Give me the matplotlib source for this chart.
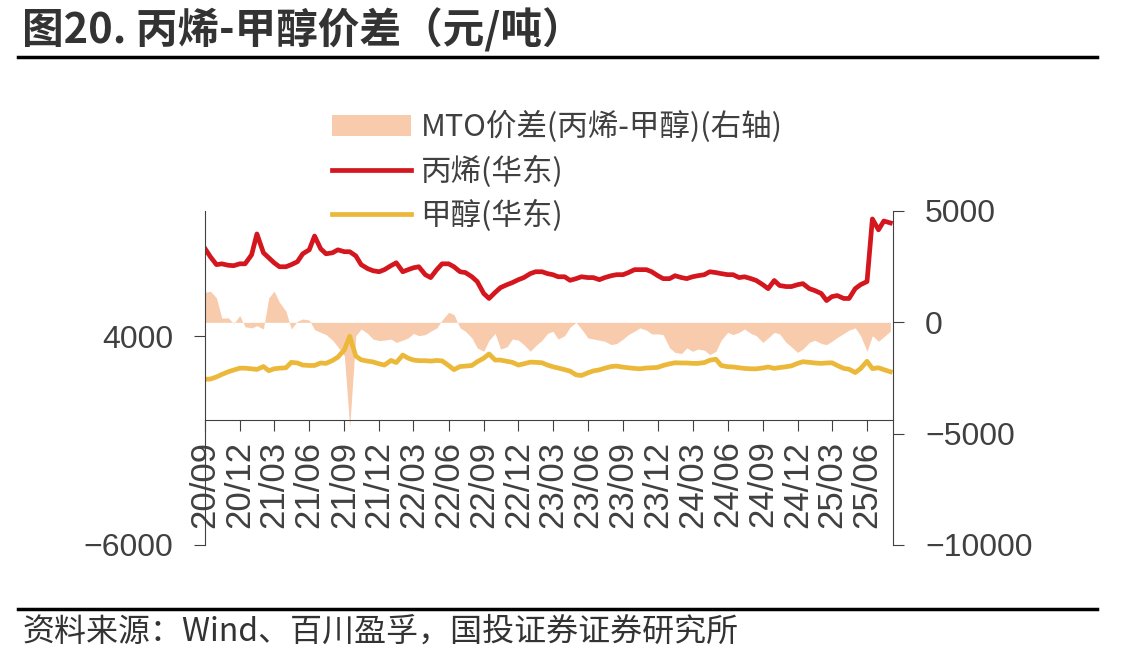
import matplotlib
matplotlib.use("Agg")
from matplotlib import pyplot as plt
from matplotlib.lines import Line2D
import pandas as pd

plt.rcParams['font.family'] = ['Noto Sans CJK SC', 'DejaVu Sans']

# semi-monthly sampling
dates = pd.date_range("2020-09-01", "2025-08-01", freq="SMS")

propylene = [
    8200, 7810, 7430, 7470, 7400, 7380, 7470, 7470,
    7900, 8900, 8000, 7760, 7520, 7330, 7330, 7430, 7570, 7950, 8140, 8800,
    8190, 7950, 8000, 8140, 8050, 8050, 7850, 7430, 7240, 7140, 7090, 7190,
    7380, 7520, 7090, 7190, 7280, 7330, 6950, 6810, 7190, 7470, 7470, 7330,
    7090, 7050, 6850, 6620, 6050, 5810, 6100, 6330, 6470, 6570, 6710, 6810,
    7000, 7090, 7090, 7000, 6950, 6850, 6850, 6680, 6760, 6850, 6810, 6810,
    6710, 6810, 6900, 6950, 6950, 7050, 7190, 7190, 7190, 7090, 6900, 6760,
    6760, 6900, 6810, 6760, 6850, 6900, 6950, 7090, 7050, 7000, 6950, 6950,
    6810, 6850, 6760, 6670, 6470, 6280, 6670, 6430, 6380, 6380, 6470, 6520,
    6280, 6190, 6050, 5710, 5900, 5950, 5810, 5810, 6280, 6470, 6620, 9620,
    9100, 9520, 9430,
]

methanol = [
    1940, 1950, 2050, 2170, 2300, 2380, 2470, 2470,
    2440, 2410, 2550, 2350, 2440, 2470, 2490, 2750, 2720, 2620, 2600, 2600,
    2720, 2700, 2840, 3000, 3350, 4000, 3050, 2870, 2810, 2770, 2680, 2620,
    2840, 2740, 3100, 2950, 2860, 2830, 2830, 2810, 2840, 2820, 2600, 2400,
    2550, 2570, 2600, 2780, 2950, 3150, 2860, 2860, 2800, 2750, 2620, 2680,
    2760, 2750, 2730, 2620, 2540, 2480, 2400, 2330, 2150, 2120, 2250, 2340,
    2390, 2470, 2550, 2570, 2520, 2490, 2460, 2440, 2480, 2490, 2510, 2600,
    2680, 2730, 2720, 2720, 2700, 2700, 2740, 2850, 2900, 2600, 2540, 2530,
    2490, 2460, 2440, 2440, 2480, 2530, 2460, 2500, 2540, 2580, 2700, 2780,
    2750, 2720, 2700, 2720, 2730, 2600, 2460, 2420, 2260, 2450, 2800, 2450,
    2490, 2400, 2300,
]

spread = [
    1350, 1400, 1100, 190, 200, -50, 300, -200,
    -250, -150, -300, 1100, 1400, 900, 500, -300, 50, 150, 100, -330,
    -450, -550, -800, -1100, -1500, -4700, -600, -300, -500, -750, -820, -800,
    -750, -900, -800, -700, -500, -600, -550, -400, -250, 100, 450, 350,
    -250, -400, -700, -1150, -1300, -800, -500, -1200, -1100, -750, -800, -1000,
    -1300, -1050, -800, -500, -400, -750, -600, -220, 0, -300, -700, -750,
    -800, -850, -1000, -950, -750, -550, -400, -250, -350, -520, -520, -550,
    -1150, -1350, -1400, -1150, -1300, -1200, -1250, -1450, -1300, -800, -450, -550,
    -450, -300, -500, -600, -900, -700, -450, -520, -900, -1100, -1350, -1200,
    -900, -800, -950, -1000, -850, -680, -500, -350, -250, -600, -1300, -600,
    -850, -650, -400,
]

tick_dates = pd.date_range("2020-09-01", "2025-06-01", freq="3MS")
tick_labels = [d.strftime("%y/%m") for d in tick_dates]

W, H = 1147, 663
fig = plt.figure(figsize=(W / 100, H / 100), dpi=100)
ax = fig.add_axes([205 / W, 1 - 545 / H, 688 / W, 334 / H])
ax2 = ax.twinx()
ax.set_zorder(ax2.get_zorder() + 1)
ax.patch.set_visible(False)

fill = ax2.fill_between(dates, spread, 0, color="#F8CBAD", lw=0)
l1, = ax.plot(dates, propylene, color="#D4161E", lw=3.4)
l2, = ax.plot(dates, methanol, color="#EBB83A", lw=3.4)

txt = "#404040"
ax.set_xlim(dates[0], pd.Timestamp("2025-08-08"))
ax.set_ylim(-6000, 10000)
ax.set_yticks([-6000, 4000])
ax2.set_ylim(-10000, 5000)
ax2.set_yticks([-10000, -5000, 0, 5000])
ax.set_xticks(tick_dates)
ax.set_xticklabels(tick_labels)

for s in ["top", "right"]:
    ax.spines[s].set_visible(False)
for s in ["top", "left", "bottom"]:
    ax2.spines[s].set_visible(False)
ax.spines["bottom"].set_position(("data", 0))
ax.spines["left"].set_color(txt)
ax.spines["bottom"].set_color(txt)
ax2.spines["right"].set_color(txt)

ax.tick_params(axis="y", direction="out", length=8, color=txt, pad=15,
               labelsize=23, labelcolor=txt, labelfontfamily="Liberation Sans")
ax.tick_params(axis="x", direction="out", length=8, color=txt, pad=7,
               labelsize=25, labelcolor=txt, labelfontfamily="Liberation Sans",
               labelrotation=90)
ax2.tick_params(axis="y", direction="out", length=8, color=txt, pad=15,
                labelsize=23, labelcolor=txt, labelfontfamily="Liberation Sans")

fig.legend([fill, l1, l2], ["MTO价差(丙烯-甲醇)(右轴)", "丙烯(华东)", "甲醇(华东)"],
           loc="upper left", bbox_to_anchor=(332 / W, 1 - 111 / H), frameon=False,
           fontsize=22, handlelength=2.6, handletextpad=0.3, labelspacing=0.4,
           borderpad=0, borderaxespad=0, labelcolor=txt)

fig.text(22 / W, 1 - 30 / H, "图20. 丙烯-甲醇价差（元/吨）", fontsize=30,
         fontweight="bold", va="center", color="#333333")
fig.add_artist(Line2D([18 / W, 1097 / W], [1 - 57 / H] * 2, lw=2.5, color="black",
                      transform=fig.transFigure))
fig.add_artist(Line2D([18 / W, 1097 / W], [1 - 609 / H] * 2, lw=2.5, color="black",
                      transform=fig.transFigure))
fig.text(22 / W, 1 - 632 / H, "资料来源：Wind、百川盈孚，国投证券证券研究所", fontsize=23,
         va="center", color="#333333")

fig.savefig("out.png", dpi=100)
